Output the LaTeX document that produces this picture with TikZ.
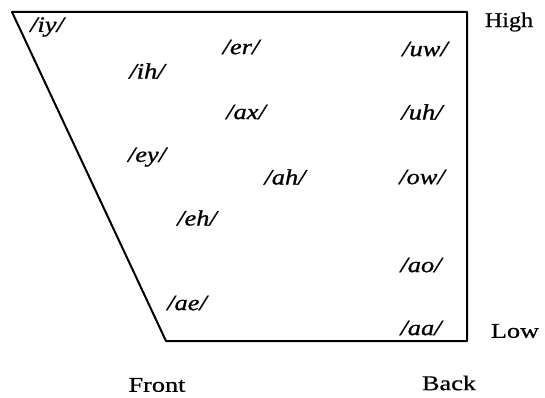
\documentclass[tikz,border=0pt]{standalone}
\usepackage{fontspec}
\setmainfont{Liberation Serif}[ItalicFeatures={FakeBold=0.8}, UprightFeatures={FakeBold=0.5}]
\begin{document}
\begin{tikzpicture}[x=1pt,y=-1pt,
  vowel/.style={font=\fontsize{22}{22}\selectfont\itshape, inner sep=0pt, anchor=center},
  axislabel/.style={font=\fontsize{21}{21}\selectfont, inner sep=0pt, anchor=center},
  chart/.style={line width=2pt, line join=round}]
\useasboundingbox (0,0) rectangle (545,398);
\coordinate (tl) at (12,12);
\coordinate (tr) at (467,12);
\coordinate (br) at (467,341);
\coordinate (bl) at (166,341);
\draw[chart] (tl) -- (tr) -- (br) -- (bl) -- cycle;
\node[vowel] (iy) at (47,27) {\scalebox{1.2}[1]{/iy/}};
\node[vowel] (ih) at (147,71) {\scalebox{1.2}[1]{/ih/}};
\node[vowel] (er) at (241,47) {\scalebox{1.2}[1]{/er/}};
\node[vowel] (uw) at (425,49) {\scalebox{1.2}[1]{/uw/}};
\node[vowel] (ax) at (246,112) {\scalebox{1.2}[1]{/ax/}};
\node[vowel] (uh) at (422,112) {\scalebox{1.2}[1]{/uh/}};
\node[vowel] (ey) at (147,157) {\scalebox{1.2}[1]{/ey/}};
\node[vowel] (ah) at (285,177) {\scalebox{1.2}[1]{/ah/}};
\node[vowel] (ow) at (422,177) {\scalebox{1.2}[1]{/ow/}};
\node[vowel] (eh) at (197,218) {\scalebox{1.2}[1]{/eh/}};
\node[vowel] (ao) at (421,265) {\scalebox{1.2}[1]{/ao/}};
\node[vowel] (ae) at (187,303) {\scalebox{1.2}[1]{/ae/}};
\node[vowel] (aa) at (421,328) {\scalebox{1.2}[1]{/aa/}};
\node[axislabel] (high) at (509,22) {\scalebox{1.15}[1]{High}};
\node[axislabel] (low) at (515,331) {\scalebox{1.25}[1]{Low}};
\node[axislabel] (front) at (157,385) {\scalebox{1.25}[1]{Front}};
\node[axislabel] (back) at (449,383) {\scalebox{1.25}[1]{Back}};
\end{tikzpicture}
\end{document}
